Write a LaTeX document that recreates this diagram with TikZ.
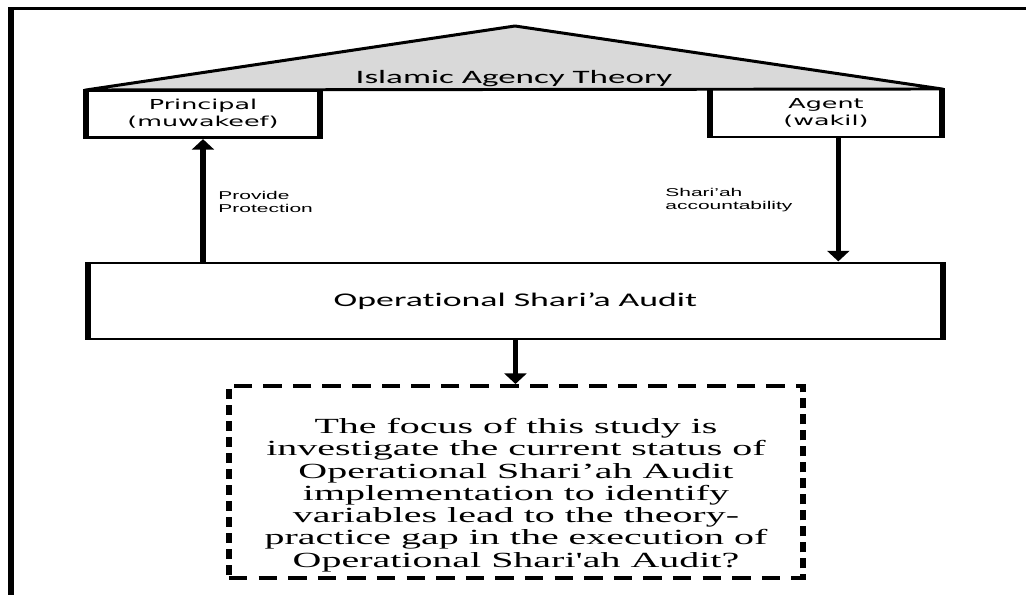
\documentclass[tikz,border=0pt]{standalone}
\usepackage{fontspec}
\usetikzlibrary{shapes,arrows.meta,positioning}
\newfontfamily\calfont[Ligatures={TeX,NoCommon}]{Carlito}
\newfontfamily\verdfont{DejaVu Sans}
\newfontfamily\arialfont{Liberation Sans}
\newfontfamily\timesfont{Liberation Serif}
\definecolor{roofgray}{RGB}{217,217,217}

\begin{document}
\begin{tikzpicture}[x=0.4054pt, y=-0.75pt, >={Triangle[length=8pt, width=8.5pt]},
        box/.style={rectangle, draw, line width=2.2pt, inner sep=0pt, align=center},
        party/.style={box, font=\verdfont\fontsize{10.3}{12.5}\selectfont},
        link/.style={->, line width=2.2pt},
        lbl/.style={align=left, inner sep=2pt, font=\arialfont\fontsize{8.5}{10.2}\selectfont}]
    \useasboundingbox (0,0) rectangle (769.5pt,-446.25pt);
    \begin{scope}[transform canvas={xscale=1.85}]
        % Frame
        \draw[line width=2.6pt] (11,595) |- (1026,8.5);

        % Roof
        \filldraw[fill=roofgray, line width=2.2pt, line join=round] (86,90) -- (515,26) -- (942,89) -- cycle;
        \node[font=\calfont\fontsize{14.2}{17}\selectfont] (theory) at (514,79) {Islamic Agency Theory};

        % Principal and agent
        \node[party, minimum width=94.9pt, minimum height=35.25pt] (principal) at (203,114) {Principal\\(muwakeef)};
        \node[party, minimum width=94.05pt, minimum height=36pt] (agent) at (826,113) {Agent\\(wakil)};

        % Audit
        \node[box, minimum width=346.6pt, minimum height=57pt, font=\calfont\fontsize{14.5}{17}\selectfont] (audit) at (515.5,301) {Operational Shari’a Audit};

        % Focus of the study
        \node[box, dash pattern=on 7.5pt off 4.5pt, line width=2.8pt, minimum width=232.7pt, minimum height=144pt] (focus) at (516,482) {};
        \node[align=center, font=\timesfont\fontsize{16.2}{16.7}\selectfont] (focus_txt) at (516,495)
        {The focus of this study is\\
         investigate the current status of\\
         Operational Shari’ah Audit\\
         implementation to identify\\
         variables lead to the theory-\\
         practice gap in the execution of\\
         Operational Shari\textquotesingle ah Audit?};

        % Links
        \draw[link] (audit.north -| principal.south) -- (principal.south);
        \draw[link] ([xshift=5pt]agent.south) -- ([xshift=5pt]agent.south |- audit.north);
        \draw[link] (audit.south) -- (audit.south |- focus.north);

        \node[lbl, anchor=west] (protect_lbl) at (213,202) {Provide\\Protection};
        \node[lbl, anchor=west] (account_lbl) at (660,200) {Shari’ah\\accountability};
    \end{scope}
\end{tikzpicture}
\end{document}
